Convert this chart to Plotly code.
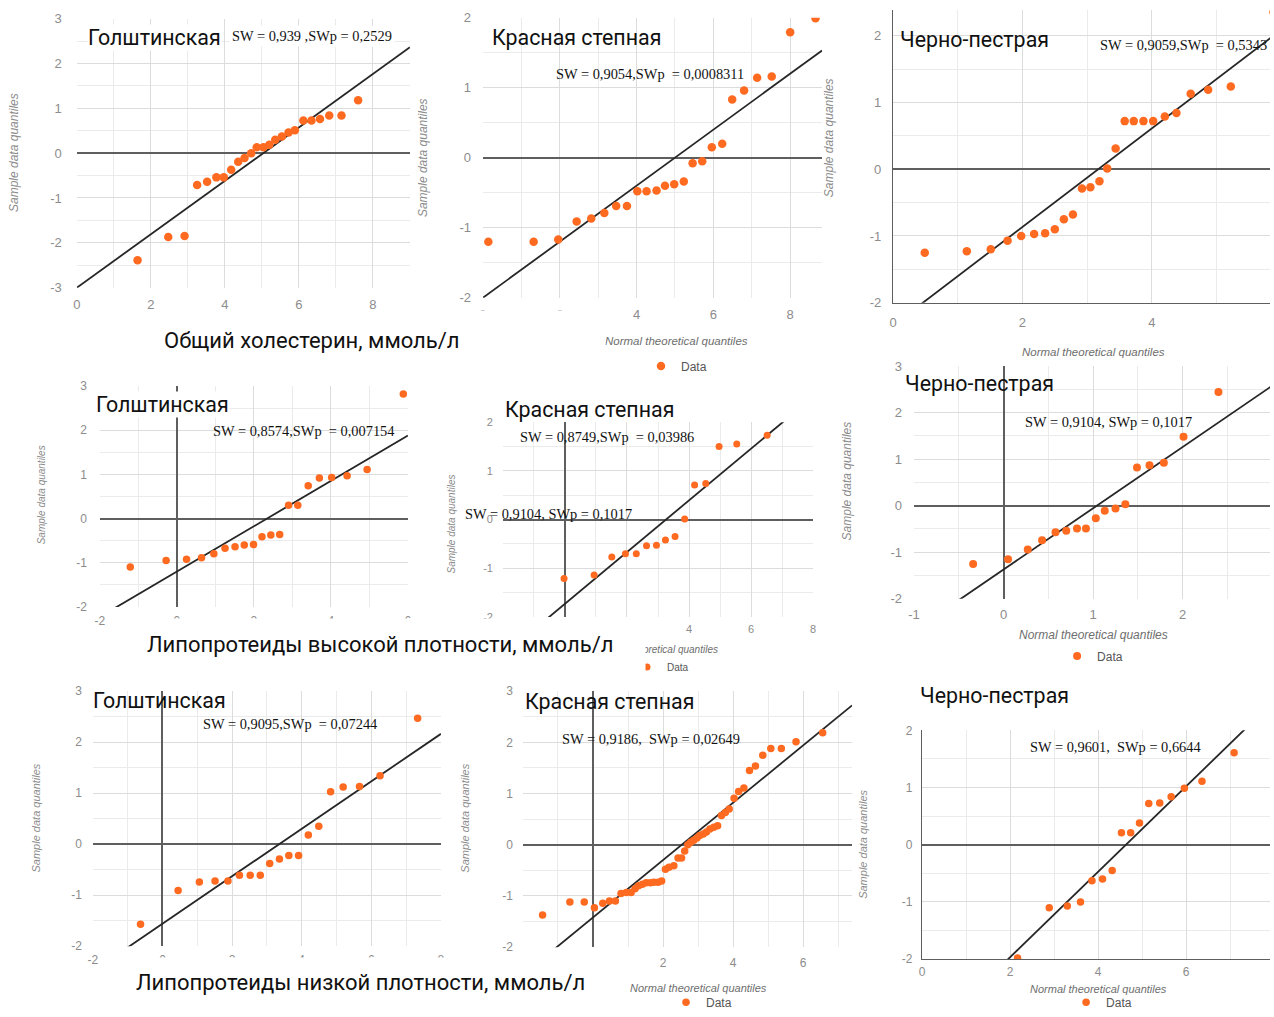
import math
import plotly.graph_objects as go

# ---------------- data ----------------
breeds = ["Голштинская", "Красная степная", "Черно-пестрая"]
row_labels = ["Общий холестерин, ммоль/л",
              "Липопротеиды высокой плотности, ммоль/л",
              "Липопротеиды низкой плотности, ммоль/л"]
sw_texts = ["SW = 0,939 ,SWp = 0,2529", "SW = 0,9054,SWp  = 0,0008311", "SW = 0,9059,SWp  = 0,5343",
            "SW = 0,8574,SWp  = 0,007154", "SW = 0,8749,SWp  = 0,03986", "SW = 0,9104, SWp = 0,1017",
            "SW = 0,9095,SWp  = 0,07244", "SW = 0,9186,  SWp = 0,02649", "SW = 0,9601,  SWp = 0,6644"]
stray_text = "SW = 0,9104, SWp = 0,1017"
y_title = "Sample data quantiles"
x_title = "Normal theoretical quantiles"
x_title_short = "theoretical quantiles"
legend_name = "Data"

# total cholesterol
chol_hol_x = [1.64, 2.47, 2.91, 3.25, 3.52, 3.77, 3.97, 4.17, 4.36, 4.53, 4.71, 4.86, 5.04, 5.20, 5.36, 5.54, 5.72, 5.89, 6.12, 6.34, 6.57, 6.82, 7.15, 7.60]
chol_hol_y = [-2.39, -1.87, -1.85, -0.71, -0.64, -0.54, -0.54, -0.37, -0.19, -0.11, 0.00, 0.13, 0.13, 0.19, 0.30, 0.37, 0.46, 0.51, 0.73, 0.73, 0.76, 0.84, 0.84, 1.18]
chol_red_x = [0.14, 1.32, 1.96, 2.44, 2.82, 3.16, 3.47, 3.75, 4.02, 4.26, 4.52, 4.74, 4.98, 5.23, 5.46, 5.71, 5.96, 6.23, 6.49, 6.80, 7.14, 7.52, 8.00, 8.66]
chol_red_y = [-1.20, -1.20, -1.17, -0.91, -0.87, -0.79, -0.69, -0.69, -0.48, -0.48, -0.47, -0.40, -0.38, -0.34, -0.08, -0.05, 0.15, 0.20, 0.83, 0.96, 1.14, 1.16, 1.79, 1.99]
chol_bp_x = [0.49, 1.14, 1.51, 1.77, 1.98, 2.18, 2.35, 2.50, 2.64, 2.78, 2.92, 3.05, 3.19, 3.31, 3.44, 3.58, 3.72, 3.87, 4.02, 4.20, 4.38, 4.60, 4.87, 5.22, 5.88]
chol_bp_y = [-1.25, -1.23, -1.20, -1.07, -1.00, -0.97, -0.96, -0.90, -0.75, -0.68, -0.29, -0.27, -0.18, 0.01, 0.31, 0.72, 0.72, 0.72, 0.72, 0.79, 0.84, 1.13, 1.19, 1.24, 2.35]

# HDL
hdl_hol_x = [-1.21, -0.28, 0.25, 0.64, 0.96, 1.25, 1.51, 1.75, 1.99, 2.21, 2.44, 2.67, 2.90, 3.14, 3.41, 3.70, 4.02, 4.42, 4.94, 5.88]
hdl_hol_y = [-1.10, -0.95, -0.92, -0.89, -0.80, -0.67, -0.64, -0.60, -0.59, -0.41, -0.37, -0.36, 0.30, 0.30, 0.74, 0.92, 0.93, 0.97, 1.11, 2.82]
hdl_red_x = [-0.03, 0.94, 1.51, 1.95, 2.30, 2.63, 2.95, 3.24, 3.55, 3.86, 4.18, 4.54, 4.97, 5.54, 6.52]
hdl_red_y = [-1.21, -1.14, -0.77, -0.70, -0.70, -0.54, -0.53, -0.42, -0.35, 0.01, 0.71, 0.74, 1.50, 1.55, 1.73]
hdl_bp_x = [-0.34, 0.05, 0.27, 0.43, 0.58, 0.70, 0.82, 0.92, 1.03, 1.13, 1.25, 1.36, 1.49, 1.63, 1.79, 2.01, 2.40]
hdl_bp_y = [-1.25, -1.15, -0.94, -0.74, -0.57, -0.54, -0.49, -0.49, -0.27, -0.11, -0.06, 0.03, 0.82, 0.87, 0.92, 1.48, 2.44]

# LDL
ldl_hol_x = [-0.63, 0.45, 1.06, 1.51, 1.88, 2.21, 2.52, 2.81, 3.08, 3.36, 3.63, 3.91, 4.19, 4.49, 4.83, 5.19, 5.66, 6.25, 7.33]
ldl_hol_y = [-1.57, -0.91, -0.74, -0.72, -0.72, -0.61, -0.61, -0.61, -0.38, -0.29, -0.22, -0.22, 0.18, 0.35, 1.03, 1.12, 1.13, 1.34, 2.47]
ldl_red_x = [-1.44, -0.66, -0.25, 0.04, 0.28, 0.47, 0.64, 0.80, 0.95, 1.09, 1.20, 1.30, 1.41, 1.52, 1.64, 1.74, 1.86, 1.96, 2.07, 2.17,
             2.31, 2.43, 2.53, 2.62, 2.71, 2.79, 2.88, 2.97, 3.05, 3.15, 3.24, 3.34, 3.45, 3.56, 3.67, 3.78, 3.89, 4.03, 4.16, 4.31,
             4.47, 4.64, 4.85, 5.08, 5.38, 5.80, 6.56]
ldl_red_y = [-1.37, -1.12, -1.12, -1.23, -1.14, -1.10, -1.10, -0.95, -0.93, -0.93, -0.86, -0.80, -0.77, -0.74, -0.74, -0.73, -0.73, -0.71, -0.48, -0.44,
             -0.41, -0.26, -0.26, -0.12, 0.00, 0.05, 0.09, 0.13, 0.18, 0.21, 0.25, 0.31, 0.34, 0.37, 0.57, 0.63, 0.70, 0.91, 1.04, 1.11,
             1.45, 1.54, 1.75, 1.88, 1.88, 2.01, 2.19]
ldl_bp_x = [2.17, 2.89, 3.30, 3.60, 3.86, 4.10, 4.32, 4.53, 4.74, 4.94, 5.15, 5.40, 5.66, 5.96, 6.36, 7.09]
ldl_bp_y = [-1.98, -1.10, -1.07, -1.00, -0.63, -0.60, -0.45, 0.21, 0.21, 0.38, 0.72, 0.73, 0.84, 0.99, 1.11, 1.61]

# reference (fit) lines: y = intercept + slope * x
fit_intercept = [-3.00, -2.00, -2.34, -1.20, -1.73, -1.37, -1.56, -1.42, -3.46]
fit_slope = [0.596, 0.40, 0.738, 0.513, 0.531, 1.315, 0.4655, 0.56, 0.747]

# axis ranges
x_ranges = [[0, 9], [0, 8.83], [0, 5.89], [-2, 6], [-2, 8], [-1, 3], [-2, 8], [-2, 7.4], [0, 8]]
y_ranges = [[-3, 3], [-2, 2], [-2, 2.39], [-2, 3], [-2, 2], [-2, 3], [-2, 3], [-2, 3], [-2, 2]]

series_x = [chol_hol_x, chol_red_x, chol_bp_x, hdl_hol_x, hdl_red_x, hdl_bp_x, ldl_hol_x, ldl_red_x, ldl_bp_x]
series_y = [chol_hol_y, chol_red_y, chol_bp_y, hdl_hol_y, hdl_red_y, hdl_bp_y, ldl_hol_y, ldl_red_y, ldl_bp_y]

# ---------------- layout / styling ----------------
W, H = 1274, 1017
# the photographed page shows the figure slightly inset and scaled; positions below are
# picture pixels and are mapped to figure pixels with this measured transform
SX, AX = 0.9919, 6.16
SY, AY = 0.98055, 7.39
X_LIM = AX + SX * W  # right-most picture pixel that the figure can reach

boxes = [(77, 19, 410, 287), (483, 18, 822, 297), (893, 10, 1274, 302),
         (100, 385, 408, 605), (503, 421, 813, 615), (914, 365, 1272, 597),
         (93, 689, 441, 943), (523, 689, 852, 944), (922, 728, 1274, 956)]
x_step = [2, 2, 2, 2, 2, 1, 2, 2, 2]
x_minor = [1, 1, 1, 1, 1, 0.5, 1, 1, 1]
x_lab_off = [7, 7, 7, 5, 4, 6, 5, 7, 1]
y_lab_off = [14, 11, 8, 12, 9, 11, 10, 9, 6]
x_zero = [False, False, True, True, True, True, True, True, True]
x_line = [False, False, True, False, False, False, False, False, True]
tick_size = [13, 13, 13, 12, 11, 13, 12, 12, 12]
marker_size = [8.5, 8.5, 8.5, 7.5, 7, 8, 7.5, 7.5, 7.5]

ORANGE = "#ff6a21"
TICK = "#8c8c8c"
GRID = "#dcdcdc"
MINOR = "#ebebeb"
ZERO = "#5e5e5e"


def dx(X):
    return (X - AX) / SX


def dy(Y):
    return (Y - AY) / SY


def px(X):
    return dx(X) / W


def py(Y):
    return 1 - dy(Y) / H


def ticks(lo, hi, step):
    v = math.ceil(lo / step - 1e-9) * step
    vals = []
    while v <= hi + 1e-9:
        vals.append(v)
        v += step
    return vals, [f"{t:g}" for t in vals]


fig = go.Figure()
layout = dict(width=W, height=H, margin=dict(l=0, r=0, t=0, b=0),
              paper_bgcolor="white", plot_bgcolor="white", showlegend=True)

legend_slots = {1: "legend", 4: "legend2", 5: "legend3", 7: "legend4", 8: "legend5"}

for i in range(9):
    n = "" if i == 0 else str(i + 1)
    l, t, r, b = boxes[i]
    xr = list(x_ranges[i])
    if r > X_LIM:  # the panel runs off the picture: crop its visible range accordingly
        xr[1] = xr[0] + (xr[1] - xr[0]) * (X_LIM - l) / (r - l)
        r = X_LIM
    xv, xt = ticks(xr[0], xr[1], x_step[i])
    yv, yt = ticks(y_ranges[i][0], y_ranges[i][1], 1)
    layout["xaxis" + n] = dict(
        domain=[max(0, px(l)), min(1, px(r))], range=xr, anchor="y" + n,
        tickmode="array", tickvals=xv, ticktext=xt,
        showgrid=True, gridcolor=GRID, gridwidth=1,
        minor=dict(dtick=x_minor[i], tick0=0, showgrid=True, gridcolor=MINOR, gridwidth=1),
        zeroline=x_zero[i], zerolinecolor=ZERO, zerolinewidth=1.6,
        showline=x_line[i], linecolor=ZERO, linewidth=1.4,
        tickfont=dict(family="Liberation Sans", size=tick_size[i], color=TICK),
        ticks="", ticklabelstandoff=x_lab_off[i], fixedrange=True)
    layout["yaxis" + n] = dict(
        domain=[max(0, py(b)), min(1, py(t))], range=y_ranges[i], anchor="x" + n,
        tickmode="array", tickvals=yv, ticktext=yt,
        showgrid=True, gridcolor=GRID, gridwidth=1,
        minor=dict(dtick=0.5, tick0=0, showgrid=True, gridcolor=MINOR, gridwidth=1),
        zeroline=True, zerolinecolor=ZERO, zerolinewidth=1.6,
        showline=x_line[i], linecolor=ZERO, linewidth=1.4,
        tickfont=dict(family="Liberation Sans", size=tick_size[i], color=TICK),
        ticks="", ticklabelstandoff=y_lab_off[i], fixedrange=True)

    xa = "x" + n
    ya = "y" + n
    x0, x1 = x_ranges[i]
    fig.add_trace(go.Scatter(
        x=[x0, x1], y=[fit_intercept[i] + fit_slope[i] * x0, fit_intercept[i] + fit_slope[i] * x1],
        mode="lines", line=dict(color="#262626", width=1.8), xaxis=xa, yaxis=ya,
        showlegend=False, hoverinfo="skip"))
    leg = legend_slots.get(i)
    fig.add_trace(go.Scatter(
        x=series_x[i], y=series_y[i], mode="markers", name=legend_name,
        marker=dict(color=ORANGE, size=marker_size[i], line=dict(width=0)),
        xaxis=xa, yaxis=ya, showlegend=leg is not None,
        legend=leg if leg else "legend"))

# legends (picture position of the marker centre)
legend_pos = {"legend": (662, 365, 12), "legend2": (648, 665, 10), "legend3": (1078, 654, 12),
              "legend4": (687, 999, 12), "legend5": (1087, 999, 12)}
for key, (mx, my, fs) in legend_pos.items():
    layout[key] = dict(x=px(mx - 21), y=py(my), xanchor="left", yanchor="middle",
                       bgcolor="rgba(0,0,0,0)", borderwidth=0,
                       font=dict(family="Liberation Sans", size=fs, color="#555"),
                       itemclick=False, itemdoubleclick=False, tracegroupgap=0)

fig.update_layout(**layout)

ann = []
# breed titles
title_pos = [(88, 38), (492, 38), (900, 40), (96, 403), (505, 408), (905, 382), (93, 698), (525, 699), (920, 693)]
for i, (tx, ty) in enumerate(title_pos):
    ann.append(dict(text=breeds[i % 3], x=px(tx - 1), y=py(ty), xref="paper", yref="paper",
                    xanchor="left", yanchor="middle", showarrow=False,
                    font=dict(family="Roboto", size=21.4, color="#111"),
                    bgcolor="white" if i in (0, 3) else None, borderpad=0))

# SW annotations
sw_pos = [(232, 36), (556, 74), (1100, 45), (213, 430), (520, 436), (1025, 421), (203, 722), (562, 737), (1030, 745)]
for i, (tx, ty) in enumerate(sw_pos):
    ann.append(dict(text=sw_texts[i], x=px(tx - 3), y=py(ty), xref="paper", yref="paper",
                    xanchor="left", yanchor="middle", showarrow=False,
                    font=dict(family="Liberation Serif", size=14.4, color="#111"),
                    bgcolor="white" if i == 0 else None, borderpad=2))
ann.append(dict(text=stray_text, x=px(466 - 3), y=py(512), xref="paper", yref="paper",
                xanchor="left", yanchor="middle", showarrow=False,
                font=dict(family="Liberation Serif", size=14.4, color="#111")))

# y axis titles
ytitle_pos = [(14, 152, 12), (423, 157, 12), (829, 138, 12), (42, 493, 10), (452, 522, 10),
              (847, 480, 12), (36, 815, 11), (465, 815, 11), (863, 842, 11)]
for (tx, ty, fs) in ytitle_pos:
    ann.append(dict(text=y_title, x=px(tx), y=py(ty), xref="paper", yref="paper",
                    xanchor="center", yanchor="middle", textangle=-90, showarrow=False,
                    font=dict(family="Liberation Sans", size=fs, color="#8c8c8c", style="italic")))

# x axis titles
xtitle_pos = [(x_title, 676, 340, 11.5), (x_title, 1093, 351, 11.5), (x_title_short, 673, 647, 10),
              (x_title, 1093, 633, 12), (x_title, 698, 985, 11), (x_title, 1098, 986, 11)]
for (txt, tx, ty, fs) in xtitle_pos:
    ann.append(dict(text=txt, x=px(tx), y=py(ty), xref="paper", yref="paper",
                    xanchor="center", yanchor="middle", showarrow=False,
                    font=dict(family="Liberation Sans", size=fs, color="#6e6e6e", style="italic")))

# row labels (white boxes overlapping the lower tick labels, as in the collage); picture left/top/right/bottom
row_boxes = [(163, 311, 600, 369), (146, 617, 640, 667), (135, 955, 610, 1004)]
for i, (bl, bt, br, bb) in enumerate(row_boxes):
    ann.append(dict(text=row_labels[i], x=px(bl), y=py((bt + bb) / 2), xref="paper", yref="paper",
                    xanchor="left", yanchor="middle", width=(br - bl) / SX, height=(bb - bt) / SY,
                    align="left", valign="middle", showarrow=False, bgcolor="white", borderpad=0,
                    font=dict(family="Roboto", size=22, color="#111")))

fig.update_layout(annotations=ann)
fig.write_html("out.html", config={"displayModeBar": False},
               post_script="document.body.style.margin='0';document.documentElement.style.overflow='hidden';")
